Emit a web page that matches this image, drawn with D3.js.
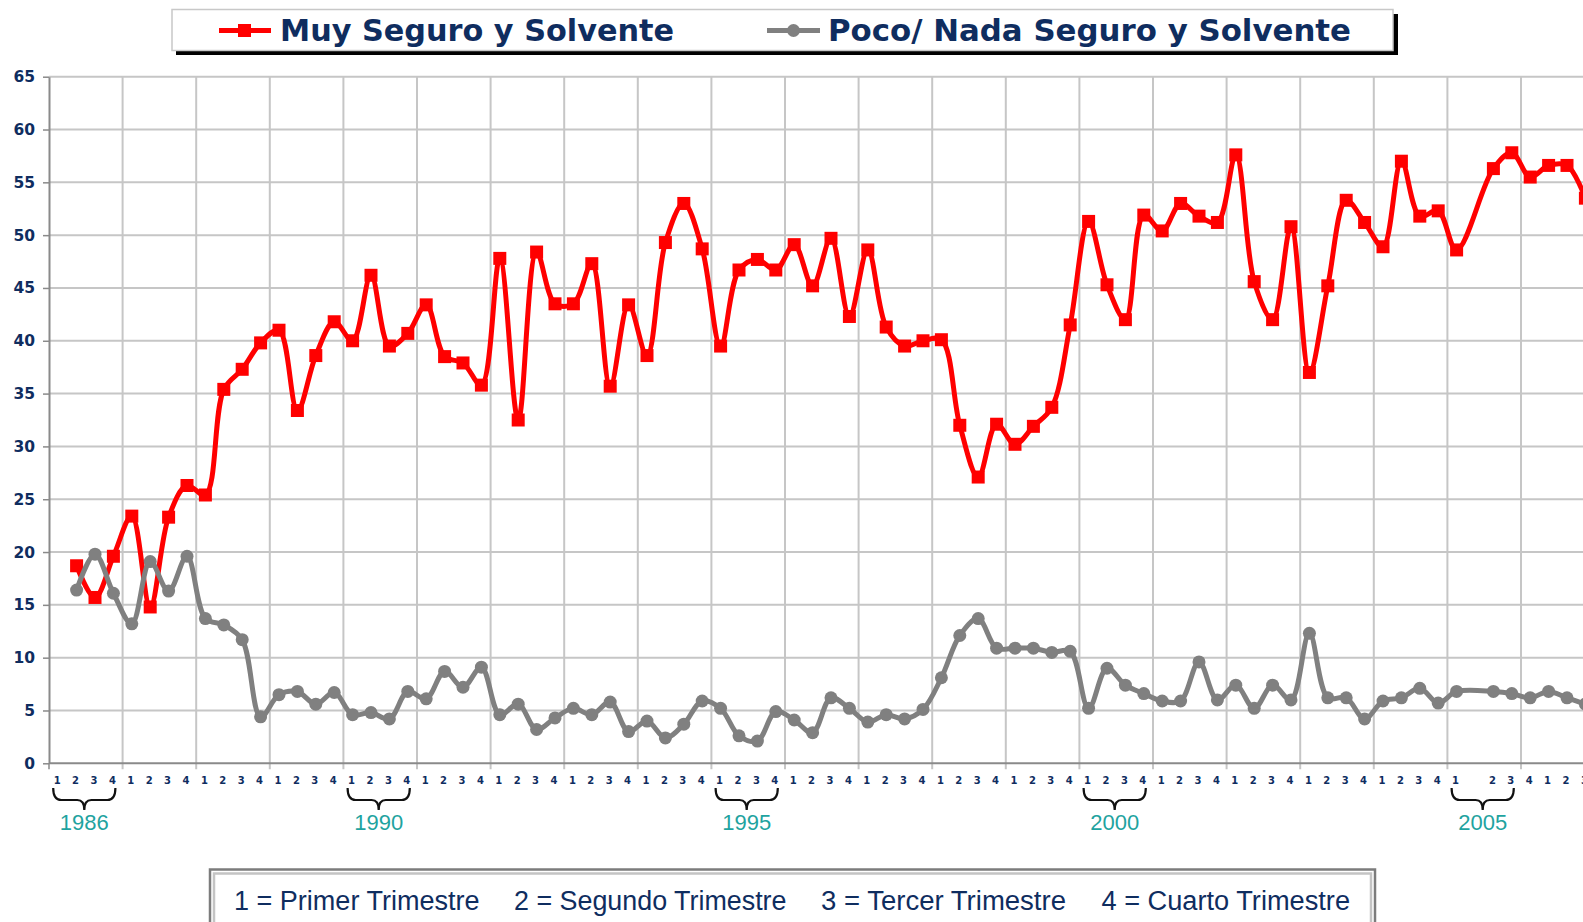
<!DOCTYPE html>
<html lang="es">
<head>
<meta charset="UTF-8">
<title>Muy Seguro y Solvente vs Poco/ Nada Seguro y Solvente</title>
<script src="https://d3js.org/d3.v7.min.js"></script>
<style>
  body { margin: 0; background: #fff; overflow: hidden; }
  svg { display: block; }
</style>
</head>
<body>
<svg id="chart" width="1583" height="922"></svg>
<script>
// ---- data ----
const seriesNames = ["Muy Seguro y Solvente", "Poco/ Nada Seguro y Solvente"];
const fullYears = [1986, 1987, 1988, 1989, 1990, 1991, 1992, 1993, 1994, 1995,
                   1996, 1997, 1998, 1999, 2000, 2001, 2002, 2003, 2004];
const quarterPattern = ["1", "2", "3", "4"];
// from 2005 the labels shift (one quarter without data)
const tailQuarterLabels = ["1", "", "2", "3", "4", "1", "2", "3"];
const yearCaptions = [1986, 1990, 1995, 2000, 2005];
const yTicks = [0, 5, 10, 15, 20, 25, 30, 35, 40, 45, 50, 55, 60, 65];
const noteLabels = ["1 = Primer Trimestre", "2 = Segundo Trimestre",
                    "3 = Tercer Trimestre", "4 = Cuarto Trimestre"];

// one value per quarter slot, null = no survey
const muySeguro = [
  null, 18.7, 15.7, 19.6,   23.4, 14.8, 23.3, 26.3,   25.4, 35.4, 37.3, 39.8,
  41.0, 33.4, 38.6, 41.8,   40.0, 46.2, 39.5, 40.7,   43.4, 38.5, 37.9, 35.8,
  47.8, 32.5, 48.4, 43.5,   43.5, 47.3, 35.7, 43.4,   38.6, 49.3, 53.0, 48.7,
  39.5, 46.7, 47.7, 46.7,   49.1, 45.2, 49.7, 42.3,   48.6, 41.3, 39.5, 40.0,
  40.1, 32.0, 27.1, 32.1,   30.2, 31.9, 33.7, 41.5,   51.3, 45.3, 42.0, 51.9,
  50.4, 53.0, 51.8, 51.2,   57.6, 45.6, 42.0, 50.8,   37.0, 45.2, 53.3, 51.2,
  48.9, 57.0, 51.8, 52.3,   48.6, null, 56.3, 57.8,   55.5, 56.6, 56.6, 53.5
];
const pocoNada = [
  null, 16.4, 19.8, 16.1,   13.2, 19.1, 16.3, 19.6,   13.7, 13.1, 11.7, 4.4,
  6.5, 6.8, 5.6, 6.7,       4.6, 4.8, 4.2, 6.8,       6.1, 8.7, 7.2, 9.1,
  4.6, 5.6, 3.2, 4.3,       5.2, 4.6, 5.8, 3.0,       4.0, 2.4, 3.7, 5.9,
  5.2, 2.6, 2.1, 4.9,       4.1, 2.9, 6.2, 5.2,       3.9, 4.6, 4.2, 5.1,
  8.1, 12.1, 13.7, 10.9,    10.9, 10.9, 10.5, 10.6,   5.2, 9.0, 7.4, 6.6,
  5.9, 5.9, 9.6, 6.0,       7.4, 5.2, 7.4, 6.0,       12.3, 6.2, 6.2, 4.2,
  5.9, 6.2, 7.1, 5.7,       6.8, null, 6.8, 6.6,      6.2, 6.8, 6.2, 5.6
];

const quarterLabels = fullYears.flatMap(() => quarterPattern).concat(tailQuarterLabels);

// ---- layout ----
const W = 1583, H = 922;
const navy = "#0f2d5f";
const svg = d3.select("#chart");

const x = d3.scaleLinear().domain([0, 84]).range([49, 49 + 18.4 * 84]);
const y = d3.scaleLinear().domain([0, 65]).range([763.3, 76.7]);

// horizontal grid
svg.append("g")
  .selectAll("line")
  .data(yTicks.filter(d => d > 0))
  .enter().append("line")
  .attr("x1", x(0)).attr("x2", W)
  .attr("y1", d => y(d)).attr("y2", d => y(d))
  .attr("stroke", "#c6c6c6").attr("stroke-width", 2);

// vertical grid at year boundaries (with small tick below axis)
svg.append("g")
  .selectAll("line")
  .data(d3.range(4, 85, 4))
  .enter().append("line")
  .attr("x1", d => x(d)).attr("x2", d => x(d))
  .attr("y1", y(65)).attr("y2", y(0) + 6)
  .attr("stroke", "#c6c6c6").attr("stroke-width", 2);

// y axis
const yAxis = svg.append("g")
  .attr("transform", `translate(${x(0)},0)`)
  .call(d3.axisLeft(y).tickValues(yTicks).tickSize(6).tickSizeOuter(0).tickPadding(8));
yAxis.select(".domain").attr("stroke", "#8a8a8a").attr("stroke-width", 2);
yAxis.selectAll(".tick line").attr("stroke", "#8a8a8a").attr("stroke-width", 1.5);
yAxis.selectAll(".tick text")
  .attr("fill", navy)
  .style("font-family", "'DejaVu Sans', Verdana, sans-serif")
  .style("font-weight", "bold")
  .style("font-size", "15.5px");

// x axis: quarter labels at slot centres
const xAxis = svg.append("g")
  .attr("transform", `translate(0,${y(0)})`)
  .call(d3.axisBottom(x)
    .tickValues(d3.range(84).map(s => s + 0.5))
    .tickFormat((d, i) => quarterLabels[i])
    .tickSize(0).tickPadding(14));
xAxis.select(".domain").remove();
xAxis.selectAll(".tick text")
  .attr("fill", navy)
  .attr("dx", -1.5)
  .style("font-family", "'DejaVu Sans', Verdana, sans-serif")
  .style("font-weight", "bold")
  .style("font-size", "10px");
svg.append("line")
  .attr("x1", x(0)).attr("x2", W)
  .attr("y1", y(0)).attr("y2", y(0))
  .attr("stroke", "#8a8a8a").attr("stroke-width", 2);
svg.append("line")
  .attr("x1", x(0)).attr("x2", x(0))
  .attr("y1", y(0)).attr("y2", y(0) + 6)
  .attr("stroke", "#8a8a8a").attr("stroke-width", 1.5);

// year braces
const braces = svg.append("g");
yearCaptions.forEach(yr => {
  const s0 = (yr - 1986) * 4;
  const xL = x(s0 + 0.5) - 5, xR = x(s0 + 3.5) + 2, mid = (xL + xR) / 2;
  const yT = 788, yH = 800, yB = 810;
  braces.append("path")
    .attr("d", `M${xL},${yT} Q${xL},${yH} ${xL + 8},${yH} L${mid - 7},${yH} Q${mid},${yH} ${mid},${yB}` +
               ` M${mid},${yB} Q${mid},${yH} ${mid + 7},${yH} L${xR - 8},${yH} Q${xR},${yH} ${xR},${yT}`)
    .attr("fill", "none").attr("stroke", "#111").attr("stroke-width", 2.2);
  braces.append("text")
    .attr("x", mid).attr("y", 830)
    .attr("text-anchor", "middle")
    .attr("fill", "#1fa3a0")
    .style("font-family", "'Liberation Sans', Arial, sans-serif")
    .style("font-size", "22px")
    .text(yr);
});

// lines
const line = d3.line()
  .x(d => x(d.slot + 0.5))
  .y(d => y(d.value))
  .curve(d3.curveCatmullRom.alpha(0.5));

function points(arr) {
  return arr.map((v, i) => ({ slot: i, value: v })).filter(d => d.value !== null);
}
const redPts = points(muySeguro);
const grayPts = points(pocoNada);

svg.append("path").datum(redPts)
  .attr("d", line).attr("fill", "none")
  .attr("stroke", "#ff0000").attr("stroke-width", 5).attr("stroke-linejoin", "round");
svg.append("g").selectAll("rect").data(redPts).enter().append("rect")
  .attr("x", d => x(d.slot + 0.5) - 6.5).attr("y", d => y(d.value) - 6.5)
  .attr("width", 13).attr("height", 13)
  .attr("fill", "#ff0000");

svg.append("path").datum(grayPts)
  .attr("d", line).attr("fill", "none")
  .attr("stroke", "#808080").attr("stroke-width", 5).attr("stroke-linejoin", "round");
svg.append("g").selectAll("circle").data(grayPts).enter().append("circle")
  .attr("cx", d => x(d.slot + 0.5)).attr("cy", d => y(d.value))
  .attr("r", 6.5).attr("fill", "#808080");

// ---- top legend ----
const lg = svg.append("g");
lg.append("rect").attr("x", 176).attr("y", 14).attr("width", 1222).attr("height", 41).attr("fill", "#000");
lg.append("rect").attr("x", 172).attr("y", 9.5).attr("width", 1221).attr("height", 41)
  .attr("fill", "#fff").attr("stroke", "#c8c8c8").attr("stroke-width", 1.5);

lg.append("line").attr("x1", 219).attr("x2", 271).attr("y1", 30.5).attr("y2", 30.5)
  .attr("stroke", "#ff0000").attr("stroke-width", 5);
lg.append("rect").attr("x", 238).attr("y", 24).attr("width", 13).attr("height", 13).attr("fill", "#ff0000");
lg.append("line").attr("x1", 767).attr("x2", 820).attr("y1", 30.5).attr("y2", 30.5)
  .attr("stroke", "#808080").attr("stroke-width", 5);
lg.append("circle").attr("cx", 793.5).attr("cy", 30.5).attr("r", 6.5).attr("fill", "#808080");

const legendText = [
  { name: seriesNames[0], x: 280, w: 394 },
  { name: seriesNames[1], x: 828, w: 523 }
];
lg.selectAll("text.legend").data(legendText).enter().append("text")
  .attr("class", "legend")
  .attr("x", d => d.x).attr("y", 40.5)
  .attr("textLength", d => d.w).attr("lengthAdjust", "spacingAndGlyphs")
  .attr("fill", navy)
  .style("font-family", "'DejaVu Sans', Verdana, sans-serif")
  .style("font-weight", "bold")
  .style("font-size", "30px")
  .text(d => d.name);

// ---- bottom note ----
const nb = svg.append("g");
nb.append("rect").attr("x", 210).attr("y", 869.5).attr("width", 1165).attr("height", 80)
  .attr("fill", "#fff").attr("stroke", "#7c7c7c").attr("stroke-width", 2.5);
nb.append("rect").attr("x", 214).attr("y", 873.5).attr("width", 1157).attr("height", 80)
  .attr("fill", "none").attr("stroke", "#c4c4c4").attr("stroke-width", 2.5);

const notePos = [
  { x: 234, w: 245.5 }, { x: 514, w: 272.5 }, { x: 821, w: 245 }, { x: 1101.5, w: 248.5 }
];
nb.selectAll("text").data(noteLabels).enter().append("text")
  .attr("x", (d, i) => notePos[i].x).attr("y", 910)
  .attr("textLength", (d, i) => notePos[i].w).attr("lengthAdjust", "spacingAndGlyphs")
  .attr("fill", navy)
  .style("font-family", "'Liberation Sans', Arial, sans-serif")
  .style("font-size", "27px")
  .text(d => d);
</script>
</body>
</html>
